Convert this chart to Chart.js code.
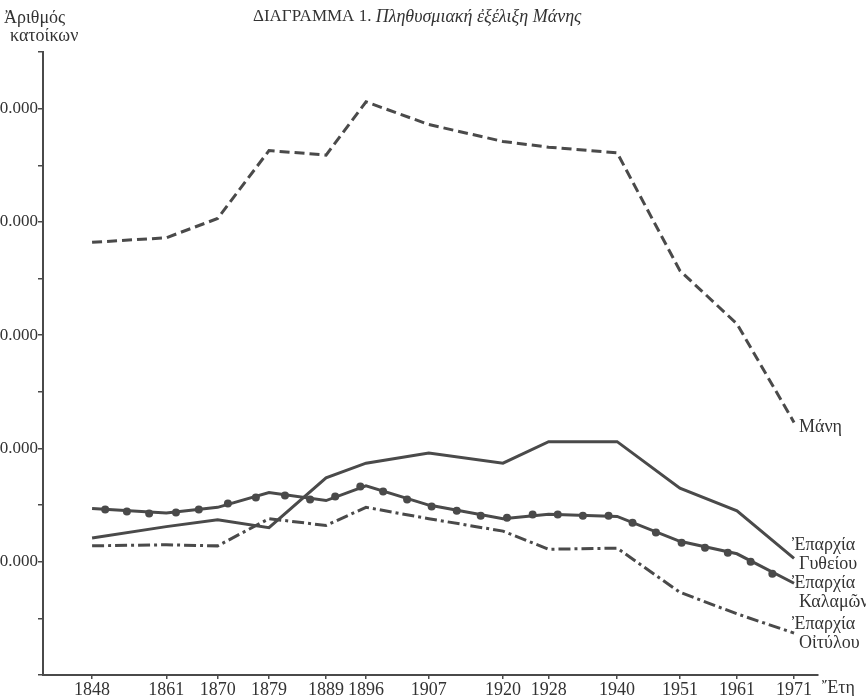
<!DOCTYPE html>
<html>
<head>
<meta charset="utf-8">
<script src="https://cdn.jsdelivr.net/npm/chart.js@4"></script>
<style>
    body { margin: 0; background: #fff; }
    #wrap { width: 866px; height: 696px; position: relative; }
</style>
</head>
<body>
<div id="wrap"><canvas id="maniChart"></canvas></div>
<script>
// Census years (x axis)
const years = [1848, 1861, 1870, 1879, 1889, 1896, 1907, 1920, 1928, 1940, 1951, 1961, 1971];

// Population per census year
const mani    = [38200, 38600, 40300, 46300, 45900, 50600, 48600, 47100, 46600, 46100, 35700, 31000, 22300];
const gytheio = [12100, 13100, 13700, 13000, 17400, 18700, 19600, 18700, 20600, 20600, 16500, 14500, 10300];
const kalamon = [14700, 14300, 14800, 16100, 15400, 16700, 15000, 13800, 14200, 14000, 11800, 10700, 8100];
const oitylo  = [11400, 11500, 11400, 13800, 13200, 14800, 13800, 12700, 11100, 11200, 7300, 5400, 3700];

// Dots drawn along the Kalamon line
const kalamonDotYears  = [1850.3, 1854.1, 1858.0, 1862.7, 1866.7, 1871.8, 1876.7, 1881.8, 1886.2, 1890.6, 1895.0, 1899.0, 1903.2, 1907.5,
                          1911.9, 1916.1, 1920.7, 1925.2, 1929.6, 1934.0, 1938.5, 1942.7, 1946.8, 1951.3, 1955.4, 1959.4, 1963.4, 1967.2];
const kalamonDotValues = [14600, 14430, 14250, 14340, 14600, 15130, 15660, 15840, 15490, 15750, 16640, 16190, 15490, 14870,
                          14510, 14070, 13890, 14160, 14160, 14070, 14070, 13450, 12570, 11680, 11240, 10800, 10000, 8940];

// Labels at the right end of each line (dy = offset in px from the last point)
const seriesLabels = [
    { lines: ['Μάνη'], value: mani[12], dy: 5 },
    { lines: ['Ἐπαρχία', 'Γυθείου'], value: gytheio[12], dy: -13 },
    { lines: ['Ἐπαρχία', 'Καλαμῶν'], value: kalamon[12], dy: 0 },
    { lines: ['Ἐπαρχία', 'Οἰτύλου'], value: oitylo[12], dy: -9 }
];

const ink = '#4a4a4a';
const textInk = '#333';
const serif = '"Liberation Serif", "DejaVu Serif", serif';

function pts(xs, ys) {
    return xs.map((x, i) => ({ x: x, y: ys[i] }));
}

// Texts around the plot
const textPlugin = {
    id: 'texts',
    afterDraw(chart) {
        const ctx = chart.ctx;
        const xs = chart.scales.x;
        const ys = chart.scales.y;
        ctx.save();
        ctx.fillStyle = textInk;
        ctx.textBaseline = 'middle';

        // title
        ctx.font = '17px ' + serif;
        const head = 'ΔΙΑΓΡΑΜΜΑ 1. ';
        ctx.fillText(head, 253, 17);
        const w = ctx.measureText(head).width;
        ctx.font = 'italic 18px ' + serif;
        ctx.fillText('Πληθυσμιακή ἐξέλιξη Μάνης', 253 + w, 17);

        // y axis title
        ctx.font = '18px ' + serif;
        ctx.fillText('Ἀριθμός', 4, 18);
        ctx.fillText('κατοίκων', 10, 36);

        // x axis title
        ctx.fillText('Ἔτη', 822, 688);

        // series labels
        const x0 = xs.getPixelForValue(1971);
        seriesLabels.forEach(l => {
            const y0 = ys.getPixelForValue(l.value) + l.dy;
            l.lines.forEach((t, i) => {
                ctx.fillText(t, x0 + (i === 0 && l.lines.length > 1 ? -2 : 5), y0 + i * 19);
            });
        });
        ctx.restore();
    }
};

const ctx = document.getElementById('maniChart').getContext('2d');
new Chart(ctx, {
    type: 'line',
    data: {
        datasets: [
            {
                label: 'Μάνη',
                data: pts(years, mani),
                borderColor: ink,
                borderWidth: 3,
                borderDash: [10, 5],
                pointRadius: 0,
                tension: 0
            },
            {
                label: 'Επαρχία Γυθείου',
                data: pts(years, gytheio),
                borderColor: ink,
                borderWidth: 3,
                pointRadius: 0,
                tension: 0
            },
            {
                label: 'Επαρχία Καλαμών',
                data: pts(years, kalamon),
                borderColor: ink,
                borderWidth: 3,
                pointRadius: 0,
                tension: 0
            },
            {
                label: 'Καλαμών (σημεία)',
                data: pts(kalamonDotYears, kalamonDotValues),
                showLine: false,
                pointRadius: 4,
                pointBorderWidth: 0,
                pointBackgroundColor: ink,
                borderColor: ink
            },
            {
                label: 'Επαρχία Οιτύλου',
                data: pts(years, oitylo),
                borderColor: ink,
                borderWidth: 3,
                borderDash: [12, 4, 3, 4],
                pointRadius: 0,
                tension: 0
            }
        ]
    },
    options: {
        responsive: true,
        maintainAspectRatio: false,
        animation: false,
        layout: {
            padding: { top: 52, right: 48, bottom: 0, left: 0 }
        },
        plugins: {
            legend: { display: false },
            tooltip: { enabled: false }
        },
        scales: {
            x: {
                type: 'linear',
                min: 1839.4,
                max: 1975.2,
                afterBuildTicks: (axis) => {
                    axis.ticks = years.map(v => ({ value: v }));
                },
                afterFit: (axis) => { axis.height = 21; },
                border: { color: ink, width: 2 },
                grid: { drawOnChartArea: false, color: ink, tickLength: 4, lineWidth: 1.5 },
                ticks: {
                    color: textInk,
                    padding: 0,
                    maxRotation: 0,
                    autoSkip: false,
                    font: { family: serif, size: 18 },
                    callback: (v) => String(v)
                }
            },
            y: {
                min: 0,
                max: 55000,
                afterFit: (axis) => { axis.width = 43; },
                border: { color: ink, width: 2 },
                grid: { drawOnChartArea: false, color: ink, tickLength: 5, lineWidth: 1.5 },
                ticks: {
                    stepSize: 5000,
                    color: textInk,
                    padding: 0,
                    font: { family: serif, size: 17 },
                    callback: (v) => (v > 0 && v % 10000 === 0) ? (v / 1000) + '.000' : ''
                }
            }
        }
    },
    plugins: [textPlugin]
});
</script>
</body>
</html>
